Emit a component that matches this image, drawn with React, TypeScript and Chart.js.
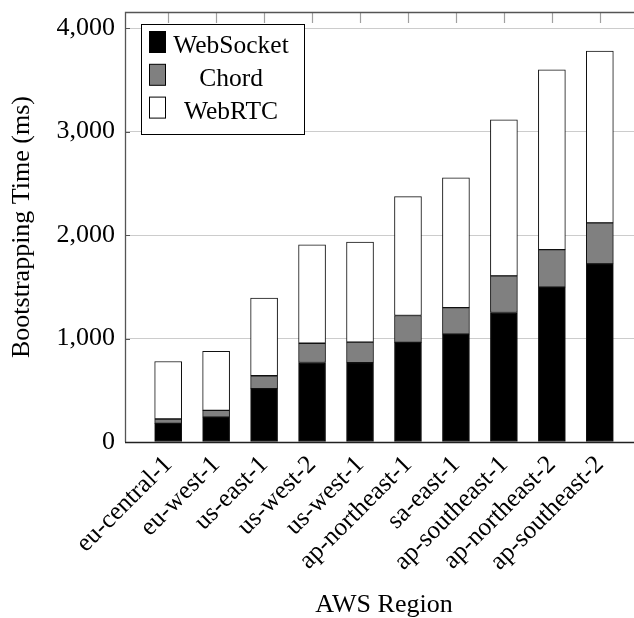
import React, { useEffect, useRef } from 'react';
import { Chart, registerables } from 'chart.js';

Chart.register(...registerables);

const REGIONS = [
  'eu-central-1',
  'eu-west-1',
  'us-east-1',
  'us-west-2',
  'us-west-1',
  'ap-northeast-1',
  'sa-east-1',
  'ap-southeast-1',
  'ap-northeast-2',
  'ap-southeast-2',
];
const WEBSOCKET = [180, 241, 515, 768, 766, 962, 1043, 1251, 1496, 1721];
const CHORD = [42, 64, 125, 186, 199, 260, 256, 355, 363, 396];
const WEBRTC = [556, 570, 750, 951, 966, 1149, 1253, 1506, 1737, 1661];
const Y_TICKS = [0, 1000, 2000, 3000, 4000];
const Y_MAX = 4155;
const X_MIN = -0.9;
const X_MAX = 9.9;

const FONT = '"Liberation Serif", "Times New Roman", serif';

const framePlugin = {
  id: 'frameAndLegend',
  afterDatasetsDraw(chart: any) {
    const { ctx, chartArea } = chart;
    const { left, top, right, bottom } = chartArea;
    const x = chart.scales.x;
    const y = chart.scales.y;
    ctx.save();
    // y tick marks (inward, both sides)
    ctx.strokeStyle = '#555';
    ctx.lineWidth = 1;
    Y_TICKS.forEach((t) => {
      const py = Math.round(y.getPixelForValue(t)) + 0.5;
      ctx.beginPath();
      ctx.moveTo(left, py);
      ctx.lineTo(left + 5, py);
      ctx.moveTo(right - 5, py);
      ctx.lineTo(right, py);
      ctx.stroke();
    });
    // top tick marks at category centers
    ctx.strokeStyle = '#a0a0a0';
    ctx.lineWidth = 1.2;
    REGIONS.forEach((_, i) => {
      const px = Math.round(x.getPixelForValue(i)) + 0.5;
      ctx.beginPath();
      ctx.moveTo(px, top);
      ctx.lineTo(px, top + 11);
      ctx.stroke();
    });
    // frame
    ctx.strokeStyle = '#555';
    ctx.lineWidth = 1.3;
    ctx.beginPath();
    ctx.moveTo(left + 0.5, bottom);
    ctx.lineTo(left + 0.5, top + 0.5);
    ctx.lineTo(right - 0.5, top + 0.5);
    ctx.lineTo(right - 0.5, bottom);
    ctx.stroke();
    ctx.strokeStyle = '#222';
    ctx.beginPath();
    ctx.moveTo(left, bottom + 0.5);
    ctx.lineTo(right, bottom + 0.5);
    ctx.stroke();

    // legend
    const bx = 141.5;
    const by = 24.5;
    const bw = 163;
    const bh = 110;
    ctx.fillStyle = '#fff';
    ctx.fillRect(bx, by, bw, bh);
    ctx.strokeStyle = '#000';
    ctx.lineWidth = 1;
    ctx.strokeRect(bx, by, bw, bh);
    ctx.font = `25.5px ${FONT}`;
    ctx.textAlign = 'center';
    ctx.textBaseline = 'alphabetic';
    chart.data.datasets.forEach((ds: any, i: number) => {
      const sy = 31 + i * 32.8;
      ctx.fillStyle = ds.backgroundColor;
      ctx.fillRect(149.5, sy + 0.5, 16, 21);
      ctx.strokeStyle = '#000';
      ctx.strokeRect(149.5, sy + 0.5, 16, 21);
      ctx.fillStyle = '#000';
      ctx.fillText(ds.label, 231, 53.3 + i * 32.8);
    });
    ctx.restore();
  },
};

export default function App() {
  const canvasRef = useRef<HTMLCanvasElement | null>(null);

  useEffect(() => {
    if (!canvasRef.current) return;
    const mk = (arr: number[]) => arr.map((v, i) => ({ x: i, y: v }));
    const common = {
      borderColor: '#111',
      borderWidth: 1,
      borderSkipped: false,
      barThickness: 27,
    };
    const chart = new Chart(canvasRef.current, {
      type: 'bar',
      data: {
        datasets: [
          { label: 'WebSocket', data: mk(WEBSOCKET), backgroundColor: '#000000', ...common },
          { label: 'Chord', data: mk(CHORD), backgroundColor: '#808080', ...common },
          { label: 'WebRTC', data: mk(WEBRTC), backgroundColor: '#ffffff', ...common },
        ],
      } as any,
      options: {
        responsive: false,
        animation: false,
        devicePixelRatio: 1,
        layout: { padding: { top: 12, left: 0, right: 0, bottom: 0 } },
        plugins: { legend: { display: false }, tooltip: { enabled: false } },
        scales: {
          x: {
            type: 'linear',
            min: X_MIN,
            max: X_MAX,
            offset: false,
            stacked: true,
            grid: { display: false, offset: false },
            border: { display: false },
            afterBuildTicks: (s: any) => {
              s.ticks = REGIONS.map((_, i) => ({ value: i }));
            },
            afterFit: (s: any) => {
              s.height = 176;
              s.paddingLeft = 0;
              s.paddingRight = 0;
            },
            ticks: {
              autoSkip: false,
              minRotation: 45,
              maxRotation: 45,
              padding: 0,
              color: '#000',
              font: { family: FONT, size: 25.5 },
              callback: (v: any) => REGIONS[Math.round(Number(v))] ?? '',
            },
            title: {
              display: true,
              text: 'AWS Region',
              color: '#000',
              font: { family: FONT, size: 26, lineHeight: 1 },
              padding: { top: 0, bottom: 0 },
            },
          },
          y: {
            type: 'linear',
            min: 0,
            max: Y_MAX,
            stacked: true,
            grid: { color: '#cccccc', drawTicks: false, lineWidth: 1 },
            border: { display: false },
            afterBuildTicks: (s: any) => {
              s.ticks = Y_TICKS.map((v) => ({ value: v }));
            },
            afterFit: (s: any) => {
              s.width = 125;
              s.paddingTop = 0;
              s.paddingBottom = 0;
            },
            ticks: {
              padding: 10,
              color: '#000',
              font: { family: FONT, size: 26 },
              callback: (v: any) => Number(v).toLocaleString('en-US'),
            },
            title: {
              display: true,
              text: 'Bootstrapping Time (ms)',
              color: '#000',
              font: { family: FONT, size: 26, lineHeight: 1.2 },
              padding: { top: 7, bottom: 0 },
            },
          },
        },
      } as any,
      plugins: [framePlugin],
    });
    return () => chart.destroy();
  }, []);

  return (
    <div
      style={{
        position: 'fixed',
        left: 0,
        top: 0,
        width: 634,
        height: 618,
        overflow: 'hidden',
        background: '#fff',
      }}
    >
      <canvas ref={canvasRef} width={643} height={618} style={{ display: 'block' }} />
    </div>
  );
}
